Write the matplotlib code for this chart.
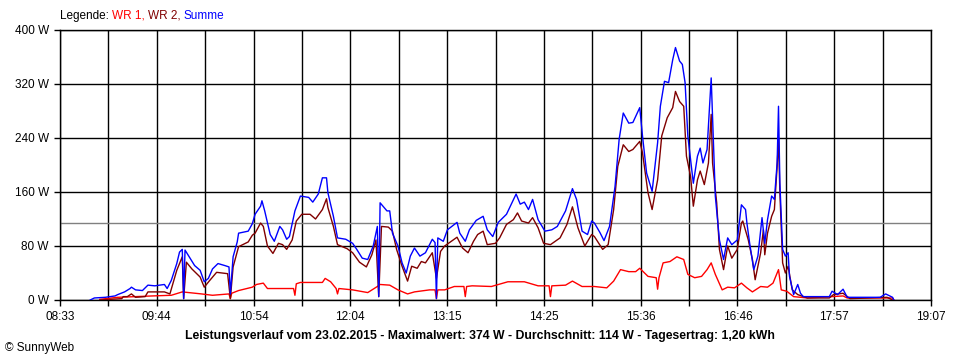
import numpy as np
import matplotlib
matplotlib.use('Agg')
import matplotlib.pyplot as plt

plt.rcParams['font.family'] = ['Liberation Sans', 'DejaVu Sans']

# Zeitachse (Beschriftung) und Leistungsachse
x_start, x_end = '08:33', '19:07'
tick_labels = ['08:33', '09:44', '10:54', '12:04', '13:15', '14:25', '15:36', '16:46', '17:57', '19:07']
y_values = [0, 80, 160, 240, 320, 400]
y_labels = ['0 W', '80 W', '160 W', '240 W', '320 W', '400 W']
avg_power = 114

# Summe (blau)
sum_times = ['08:55', '08:58', '09:06', '09:13', '09:15', '09:20', '09:24', '09:25', '09:28', '09:33',
             '09:35', '09:37', '09:42', '09:49', '09:51', '09:54', '09:58', '10:00', '10:02', '10:03',
             '10:04', '10:08', '10:11', '10:15', '10:18', '10:21', '10:24', '10:28', '10:33', '10:36',
             '10:37', '10:39', '10:42', '10:43', '10:50', '10:53', '10:55', '10:59', '11:00', '11:02',
             '11:06', '11:09', '11:13', '11:15', '11:18', '11:20', '11:24', '11:28', '11:34', '11:37',
             '11:41', '11:44', '11:47', '11:48', '11:52', '11:55', '12:01', '12:06', '12:09', '12:13',
             '12:17', '12:21', '12:24', '12:25', '12:26', '12:31', '12:33', '12:35', '12:39', '12:42',
             '12:45', '12:48', '12:51', '12:55', '12:59', '13:04', '13:06', '13:07', '13:08', '13:12',
             '13:15', '13:22', '13:24', '13:28', '13:31', '13:36', '13:41', '13:44', '13:48', '13:52',
             '13:58', '14:02', '14:05', '14:08', '14:11', '14:14', '14:17', '14:21', '14:26', '14:31',
             '14:35', '14:41', '14:46', '14:49', '14:53', '14:57', '15:00', '15:02', '15:06', '15:09',
             '15:13', '15:17', '15:20', '15:23', '15:27', '15:30', '15:35', '15:37', '15:40', '15:44',
             '15:48', '15:50', '15:53', '15:56', '15:59', '16:01', '16:04', '16:06', '16:08', '16:10',
             '16:12', '16:14', '16:17', '16:19', '16:21', '16:24', '16:27', '16:28', '16:30', '16:33',
             '16:36', '16:39', '16:42', '16:46', '16:49', '16:52', '16:53', '16:55', '16:58', '17:01',
             '17:04', '17:06', '17:08', '17:11', '17:13', '17:15', '17:16', '17:17', '17:19', '17:21',
             '17:23', '17:24', '17:27', '17:30', '17:32', '17:34', '17:53', '17:55', '17:59', '18:03',
             '18:06', '18:30', '18:34', '18:39', '18:40']
sum_watts = [0, 3, 4, 6, 8, 12, 17, 19, 15, 14,
             18, 22, 21, 23, 17, 29, 54, 71, 75, 2,
             74, 61, 51, 44, 27, 32, 46, 54, 51, 49,
             9, 64, 86, 99, 102, 113, 127, 139, 147, 132,
             97, 87, 109, 104, 90, 94, 132, 154, 152, 145,
             157, 181, 181, 159, 124, 92, 90, 84, 75, 62,
             60, 80, 109, 5, 144, 132, 132, 99, 80, 55,
             40, 65, 77, 65, 70, 90, 85, 2, 92, 87,
             104, 115, 99, 87, 104, 118, 124, 104, 94, 115,
             127, 144, 157, 142, 145, 134, 149, 119, 102, 104,
             109, 132, 165, 149, 102, 97, 117, 114, 100, 88,
             109, 168, 238, 277, 262, 263, 285, 243, 188, 161,
             233, 287, 324, 322, 356, 374, 354, 349, 322, 243,
             208, 173, 213, 225, 203, 223, 329, 272, 154, 89,
             60, 92, 82, 89, 141, 134, 114, 84, 45, 65,
             122, 84, 119, 154, 149, 203, 287, 173, 75, 65,
             70, 35, 8, 23, 10, 5, 5, 13, 8, 16,
             4, 4, 9, 4, 0]

# WR 2 (dunkelrot)
wr2_times = ['09:02', '09:18', '09:19', '09:22', '09:25', '09:28', '09:35', '09:37', '09:49', '09:53',
             '09:58', '10:02', '10:03', '10:05', '10:09', '10:15', '10:18', '10:22', '10:27', '10:35',
             '10:37', '10:39', '10:43', '10:50', '10:53', '10:55', '10:59', '11:01', '11:04', '11:08',
             '11:12', '11:15', '11:18', '11:22', '11:25', '11:29', '11:35', '11:39', '11:44', '11:47',
             '11:48', '11:52', '11:55', '12:02', '12:06', '12:11', '12:16', '12:20', '12:23', '12:25',
             '12:27', '12:32', '12:35', '12:38', '12:42', '12:46', '12:49', '12:53', '12:56', '12:59',
             '13:04', '13:07', '13:10', '13:13', '13:22', '13:26', '13:30', '13:34', '13:37', '13:41',
             '13:44', '13:50', '13:53', '13:58', '14:03', '14:06', '14:09', '14:14', '14:17', '14:21',
             '14:25', '14:30', '14:37', '14:42', '14:46', '14:50', '14:55', '15:00', '15:02', '15:08',
             '15:12', '15:16', '15:19', '15:23', '15:27', '15:30', '15:35', '15:37', '15:41', '15:44',
             '15:48', '15:51', '15:55', '15:59', '16:01', '16:04', '16:07', '16:09', '16:12', '16:14',
             '16:17', '16:19', '16:22', '16:25', '16:27', '16:28', '16:31', '16:33', '16:36', '16:39',
             '16:42', '16:46', '16:49', '16:50', '16:54', '16:57', '16:59', '17:03', '17:05', '17:06',
             '17:08', '17:11', '17:13', '17:15', '17:16', '17:17', '17:19', '17:21', '17:23', '17:26',
             '17:30', '17:37', '17:53', '17:56', '18:03', '18:08', '18:35', '18:39']
wr2_watts = [0, 2, 5, 5, 9, 4, 5, 12, 12, 9,
             44, 64, 2, 56, 46, 34, 19, 29, 41, 39,
             2, 49, 79, 86, 96, 99, 114, 109, 80, 69,
             84, 82, 75, 89, 117, 127, 127, 120, 134, 150,
             137, 109, 82, 76, 70, 56, 49, 67, 89, 5,
             109, 108, 102, 75, 50, 28, 50, 47, 57, 55,
             70, 32, 72, 80, 93, 77, 70, 87, 97, 102,
             82, 84, 92, 112, 119, 129, 117, 114, 122, 107,
             84, 82, 92, 112, 138, 107, 80, 97, 94, 75,
             82, 134, 198, 230, 220, 223, 235, 218, 159, 134,
             178, 243, 270, 285, 309, 294, 287, 213, 183, 139,
             178, 191, 171, 203, 275, 203, 144, 75, 45, 80,
             62, 75, 114, 117, 89, 60, 30, 70, 104, 67,
             99, 124, 134, 198, 240, 159, 55, 40, 50, 15,
             8, 3, 3, 8, 10, 2, 4, 0]

# WR 1 (rot)
wr1_times = ['09:02', '09:15', '09:28', '09:40', '09:54', '10:02', '10:16', '10:24', '10:36', '10:37',
             '10:38', '10:43', '10:53', '10:56', '11:01', '11:04', '11:23', '11:24', '11:25', '11:28',
             '11:44', '11:46', '11:50', '11:54', '11:55', '11:56', '12:06', '12:17', '12:24', '12:26',
             '12:33', '12:39', '12:46', '12:51', '13:02', '13:06', '13:07', '13:08', '13:13', '13:20',
             '13:27', '13:28', '13:29', '13:33', '13:47', '13:59', '14:11', '14:21', '14:29', '14:30',
             '14:31', '14:41', '14:46', '14:53', '15:02', '15:11', '15:16', '15:21', '15:27', '15:32',
             '15:35', '15:41', '15:47', '15:48', '15:49', '15:52', '15:57', '16:02', '16:07', '16:10',
             '16:15', '16:20', '16:24', '16:27', '16:30', '16:35', '16:39', '16:44', '16:49', '16:53',
             '16:57', '17:03', '17:08', '17:12', '17:16', '17:18', '17:22', '17:27', '17:37', '18:03',
             '18:06', '18:39', '18:40']
wr1_watts = [1, 4, 5, 6, 7, 12, 9, 7, 9, 2,
             10, 14, 19, 23, 25, 17, 17, 7, 24, 26,
             26, 32, 27, 17, 9, 17, 15, 11, 20, 23,
             22, 15, 9, 12, 15, 15, 2, 15, 15, 20,
             20, 5, 20, 21, 20, 27, 27, 21, 21, 5,
             21, 22, 28, 20, 20, 18, 28, 45, 42, 42,
             47, 35, 33, 16, 33, 55, 57, 64, 60, 38,
             33, 35, 45, 55, 38, 15, 19, 18, 25, 18,
             12, 20, 19, 25, 45, 15, 13, 5, 3, 6,
             3, 3, 0]


def to_min(hhmm):
    h, m = hhmm.split(':')
    return int(h) * 60 + int(m)


fig = plt.figure(figsize=(9.6, 3.6), dpi=100)
ax = fig.add_axes([60 / 960, 60 / 360, 871 / 960, 270 / 360])

ax.plot([to_min(t) for t in wr1_times], wr1_watts, color='#ff0000', lw=1.0, zorder=3)
ax.plot([to_min(t) for t in wr2_times], wr2_watts, color='#800000', lw=1.0, zorder=4)
ax.plot([to_min(t) for t in sum_times], sum_watts, color='#0000ff', lw=1.0, zorder=5)
ax.axhline(avg_power, color='#808080', lw=1.0, zorder=2)

x0, x1 = to_min(x_start), to_min(x_end)
ax.set_xlim(x0, x1)
ax.set_ylim(0, 400)

xt = np.linspace(x0, x1, 2 * len(tick_labels) - 1)
xl = []
for i in range(len(xt)):
    xl.append(tick_labels[i // 2] if i % 2 == 0 else '')
ax.set_xticks(xt)
ax.set_xticklabels(xl, fontsize=8.5)
ax.set_yticks(y_values)
ax.set_yticklabels(y_labels, fontsize=8.5)
ax.tick_params(direction='out', length=4, width=1, color='black', pad=4)
ax.grid(True, color='black', lw=1.0, zorder=1)
for s in ax.spines.values():
    s.set_color('black')
    s.set_linewidth(1.0)

# Legende oben links, mehrfarbig
r = fig.canvas.get_renderer()
x = 60 / 960
for txt, col in [('Legende: ', 'black'), ('WR 1, ', '#ff0000'), ('WR 2, ', '#800000'), ('Summe', '#0000ff')]:
    t = fig.text(x, 1 - 16 / 360, txt, color=col, fontsize=8.5, va='center', ha='left')
    bb = t.get_window_extent(renderer=r)
    x += bb.width / 960

fig.text(0.5, 24 / 360,
         'Leistungsverlauf vom 23.02.2015 - Maximalwert: 374 W - Durchschnitt: 114 W - Tagesertrag: 1,20 kWh',
         fontsize=8.8, fontweight='bold', ha='center', va='center')
fig.text(5 / 960, 12 / 360, '\u00a9 SunnyWeb', fontsize=8.5, ha='left', va='center')

fig.savefig('out.png', dpi=100)
